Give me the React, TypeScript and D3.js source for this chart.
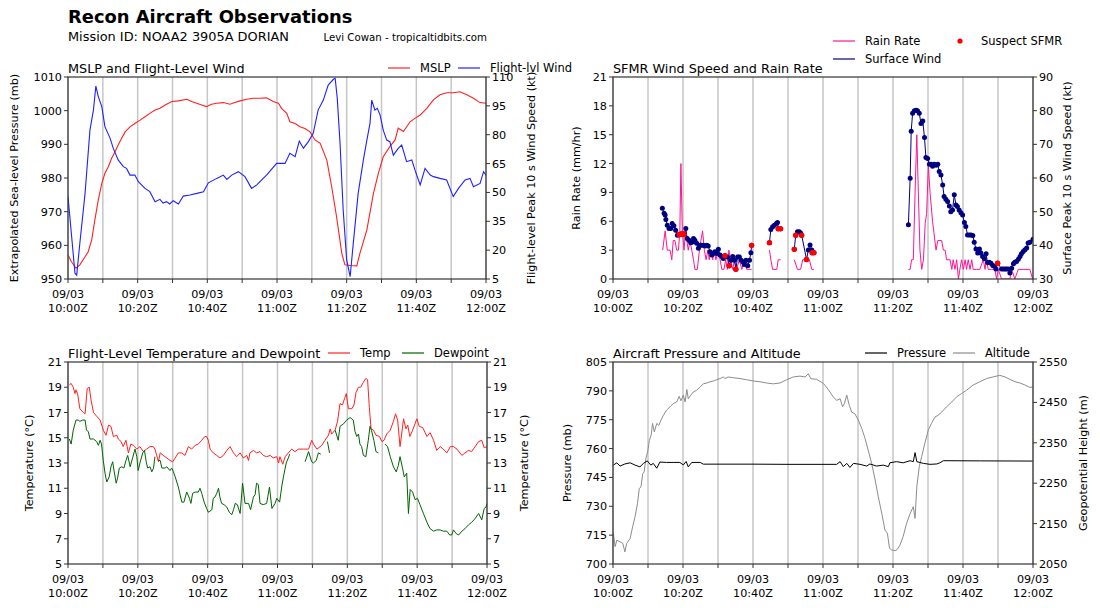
import React from "react";
import * as d3 from "d3";

type Pt = [number, number];
const N = NaN;
const FONT = "DejaVu Sans, sans-serif";

// all times are minutes after 09/03 10:00Z
const dateLabel = "09/03";
const timeLabels = ["10:00Z", "10:20Z", "10:40Z", "11:00Z", "11:20Z", "11:40Z", "12:00Z"];
const timeTicks = [0, 10, 20, 30, 40, 50, 60, 70, 80, 90, 100, 110, 120];

const mslp: Pt[] = [
  [0, 957.1], [1, 955.1], [2.3, 953.2], [3.4, 954.2], [4.9, 956.6], [5.8, 958.1], [6.8, 961.6], [7.7, 967.5],
  [8.7, 973.5], [9.7, 978.4], [10.6, 981.4], [11.6, 983.4], [12.5, 985.8], [13.5, 987.8], [14.4, 989.8],
  [15.4, 991.8], [16.4, 993.7], [17.8, 995.2], [19.2, 996.2], [20.7, 997.2], [22.1, 998.2], [23.5, 999.2],
  [25, 1000.2], [26.4, 1000.7], [27.9, 1001.7], [29.8, 1002.7], [31.7, 1002.9], [34.1, 1003.4], [35.5, 1002.7],
  [36.9, 1002.2], [38.4, 1001.7], [39.8, 1001.2], [41.2, 1001.9], [42.7, 1002.2], [44.6, 1002.4], [46.5, 1001.9],
  [47.9, 1002.4], [49.4, 1002.9], [51.3, 1003.4], [53.2, 1003.7], [55.1, 1003.7], [57, 1003.8], [58.9, 1002.7],
  [60.4, 1002.2], [61.3, 1000.7], [62.8, 999.2], [63.7, 996.7], [65.2, 996.2], [66.6, 995.2], [68, 994.7],
  [69.5, 993.7], [70.9, 991.3], [72.4, 990.3], [74.3, 985.3], [75.7, 977.4], [77.1, 968.5], [78.6, 957.6],
  [79.5, 954.2], [81, 954], [82.9, 953.9], [83.8, 957.6], [85.8, 964.6], [87.7, 975.5], [89.1, 981.4],
  [90.5, 986.3], [92.4, 989.3], [93.9, 991.3], [94.8, 994.8], [96.3, 993.8], [98.2, 996.7], [99.6, 997.7],
  [101.1, 998.7], [103, 1000.7], [104.9, 1003.2], [106.8, 1004.7], [108.7, 1005.3], [110.6, 1005.3],
  [112.5, 1005.6], [114.5, 1004.7], [116.4, 1003.7], [118.3, 1002.4], [120, 1002.2],
];

const flWind: Pt[] = [
  [0, 47.8], [1, 28], [2, 8], [2.5, 7], [3.4, 23.6], [4.9, 49.5], [6.3, 82.4], [7.3, 92.8], [8, 105.3],
  [8.7, 99.8], [9.7, 94.6], [10.6, 84.2], [12.1, 78.1], [13, 72.9], [14.4, 66.9], [15.9, 63.4], [16.8, 62.5],
  [17.8, 59], [19.2, 59], [20.2, 55.6], [22.1, 52.1], [23.5, 50.4], [25, 45.2], [26.4, 46.4], [27.3, 44.5],
  [28.3, 45.2], [29.2, 44], [30.2, 45.7], [31.7, 44], [33.1, 48.1], [35, 48.7], [37, 49.5], [38.9, 50.4],
  [40.3, 55], [42.7, 57.3], [44.6, 59], [45.6, 56.8], [47, 59], [48.9, 60.8], [50.8, 58.2], [52.7, 52.1],
  [54.2, 53.9], [55.6, 56.5], [57, 59], [59.9, 65.1], [62.3, 65.1], [63.7, 70.3], [65.2, 68.6], [66.4, 76.7],
  [67.6, 73], [69, 76.4], [70.4, 80.7], [71.8, 92.8], [73.3, 98], [74.7, 105.8], [76.2, 108.8], [76.7, 109.3],
  [77.3, 98.9], [78.1, 75.5], [79, 40.9], [80, 14.9], [81, 6.2], [81.9, 23.6], [83.3, 49.5], [84.8, 66.9],
  [85.8, 77.2], [86.7, 85.9], [87.2, 98], [88.1, 92.8], [88.8, 93.7], [89.6, 90.2], [90.5, 82.4], [91.5, 77.2],
  [92.4, 76.4], [93.4, 69.4], [94.8, 72.9], [95.8, 74.6], [97.2, 66], [98.7, 66.9], [99.6, 61.7], [101.1, 53.9],
  [102.5, 62.5], [104, 59], [104.9, 58.2], [106.8, 57.3], [108.7, 56.5], [110.6, 47.8], [112.1, 52.1],
  [114, 56.5], [115.4, 57.3], [116.4, 53], [118.3, 54.7], [119.3, 60.8], [120, 59],
];

const rainRate: Pt[] = [
  [14.2, 3], [14.9, 5], [15.5, 3], [16.3, 3], [16.8, 2], [17.2, 4], [17.7, 4], [18.2, 3], [18.7, 3], [19.1, 5],
  [19.4, 12], [19.8, 5], [20.3, 3], [20.7, 5], [21.1, 4], [21.5, 3], [22, 4], [22.5, 3], [23, 2], [23.4, 1],
  [24.1, 1], [24.7, 3], [25.1, 4], [25.6, 5], [26.1, 3], [26.6, 2], [27.1, 3], [27.5, 2], [28, 3], [28.5, 2],
  [28.9, 3], [29.4, 2], [30.1, 3], [30.6, 2], [31.1, 1], [31.7, 1], [32.2, 2], [32.7, 1], [33.1, 3], [33.6, 2],
  [34.2, 1], [34.7, 2], [35.3, 1], [36.1, 2], [36.8, 1], [37.5, 2], [38.2, 1], [39.6, 1], [42, N],
  [44.7, 3], [45.1, 2], [45.6, 1], [46.8, 1], [47.2, 2], [47.9, 2], [50, N],
  [51.8, 2], [52.7, 1], [53.6, 1], [54.2, 2], [55.3, 2], [56.1, 2], [56.8, 1], [57.4, 1], [70, N],
  [84.4, 1], [84.9, 1], [85.3, 2], [85.8, 2], [86.3, 8.9], [86.8, 15], [87.2, 9.6], [87.7, 3], [88.2, 1],
  [88.7, 2], [89.2, 5.8], [89.6, 6.8], [90.1, 11.8], [90.6, 8.9], [91.3, 6], [91.7, 4.8], [92.3, 3], [92.8, 4],
  [93.4, 4], [93.9, 4], [94.4, 3], [94.9, 3], [95.3, 2], [96.3, 2], [96.8, 1], [97.2, 2], [97.7, 1], [98.2, 2],
  [98.7, 0], [99.1, 1], [99.6, 2], [100.1, 1], [100.6, 2], [101, 1], [101.5, 2], [102, 1], [102.5, 2],
  [102.9, 1], [103.9, 1], [104.8, 1], [105.8, 2], [106.3, 1], [106.7, 2], [107.2, 1], [108.2, 1], [109.1, 1],
  [109.6, 0], [110.1, 1], [111, 0], [112.5, 0], [113.4, 0], [113.9, 1], [114.8, 0], [115.8, 1], [117.2, 1],
  [119.1, 1], [119.9, 0],
];

const sfcWind: Pt[] = [
  [14.1, 51], [14.6, 49.5], [14.9, 49], [15.1, 47.7], [15.5, 46], [16, 45], [16.5, 45], [16.9, 46.5],
  [17.4, 45.8], [17.9, 44.5], [18.4, 43], [18.9, 43.2], [19.3, 43.2], [19.8, 43.5], [20.3, 43.2], [20.8, 45],
  [21.2, 42], [21.7, 41.5], [22.2, 40.8], [22.7, 41], [23, 42], [23.4, 41.5], [23.9, 40.6], [24.4, 39.1],
  [24.9, 40], [25.3, 40], [25.8, 40], [26.3, 39.8], [26.8, 40], [27.2, 39.8], [27.7, 38.1], [28.2, 37.1],
  [28.7, 37.6], [29.1, 38.1], [29.6, 37.6], [30.1, 38.8], [30.6, 37.1], [31.1, 36.7], [31.5, 36.1], [32, 36.9],
  [32.7, 36.5], [33.2, 33.9], [33.7, 35.6], [34.2, 36.7], [34.7, 35.6], [35.1, 32.9], [35.6, 36.5],
  [36.1, 36.5], [36.6, 35.6], [37.1, 35.1], [37.5, 34.3], [38, 35.6], [38.5, 33.9], [39, 35.6], [39.4, 37.8],
  [39.6, 40], [42, N],
  [44.7, 40.8], [45.1, 44.7], [45.6, 45.5], [46.1, 46], [46.7, 46.5], [47, 46.8], [47.2, 44.9], [47.9, 44.9],
  [50, N],
  [51.8, 38.8], [52.2, 43], [52.7, 44], [53.2, 44], [53.6, 43.7], [53.9, 43], [55.3, 35.8], [55.8, 38.6],
  [56.3, 40.1], [56.8, 38.6], [56.9, 37.8], [57.4, 37.8], [70, N],
  [84.4, 46.1], [84.9, 59.9], [85.2, 73.9], [85.6, 79.2], [86.1, 80], [86.6, 80.1], [87, 80], [87.5, 79.2],
  [88, 76.2], [88.5, 76.9], [89, 72], [89.4, 66.1], [89.9, 65.8], [90.4, 64.1], [90.9, 64.1], [91.3, 63.5],
  [91.8, 64.1], [92.3, 63.8], [92.8, 64.1], [93.2, 61.9], [93.7, 60.9], [94.2, 57.9], [94.6, 54.5],
  [95.1, 53.7], [95.6, 53], [96.1, 51.7], [96.5, 50], [97, 50.5], [97.5, 55], [98, 52], [98.4, 51.5],
  [98.9, 50.5], [99.4, 49.7], [99.9, 49], [100.4, 46.8], [100.8, 45.6], [101.3, 43.1], [101.8, 43.1],
  [102.3, 43.1], [102.8, 42.9], [103.2, 40.9], [103.7, 38.9], [104.2, 37.7], [104.7, 38.9], [105.1, 37.7],
  [105.6, 36.7], [106.1, 36], [106.6, 37.5], [107, 34.9], [107.5, 35], [108, 34.7], [108.5, 34], [109, 33.8],
  [109.4, 33], [109.9, 34.7], [111, 33], [111.5, 33], [112, 33], [112.4, 33], [112.9, 33], [113.4, 31.8],
  [113.9, 33.2], [114.4, 34.5], [114.8, 35], [115.3, 35.2], [115.8, 35.9], [116.3, 36.7], [116.7, 37.5],
  [117.2, 38.2], [117.7, 38.7], [118.2, 39.2], [118.6, 40.7], [119.1, 40.9], [120, 41.8],
];

const suspectSfmr: Pt[] = [
  [18.9, 43.2], [19.3, 43.2], [19.8, 43.5], [20.3, 43.2], [32, 36.9], [33.2, 33.9], [35.1, 32.9], [39.6, 40],
  [44.7, 40.8], [47.2, 44.9], [47.9, 44.9], [51.8, 38.8], [52.2, 43], [53.9, 43], [55.3, 35.8], [56.9, 37.8],
  [57.4, 37.8], [109.9, 34.7],
];

const temp: Pt[] = [
  [0.4, 19.2], [0.9, 19.3], [1.5, 19], [2, 18.5], [2.3, 18.8], [2.8, 18.4], [3.4, 17.3], [4.4, 17], [4.9, 16.9],
  [5.5, 18.9], [6.1, 19], [6.6, 18], [7.3, 17], [8.2, 16.7], [9.2, 16.4], [10.1, 15.6], [10.9, 15.2], [11.6, 16],
  [12.3, 15.9], [13, 15.1], [14, 15.2], [14.4, 14.9], [15.2, 14.7], [15.8, 14.3], [16.6, 14.8], [17.3, 13.8],
  [18, 14.5], [18.7, 14.4], [19.7, 14.1], [20.6, 14.3], [21.6, 13.9], [22.5, 14.1], [23.5, 14.3], [24.4, 14.3],
  [24.9, 14.1], [25.4, 13.6], [25.9, 13.1], [26.4, 13.8], [27.3, 13.6], [28.3, 13.4], [29.2, 13.2], [30, 13.1],
  [30.7, 13.4], [31.6, 13.8], [32.6, 13.8], [33.5, 13.6], [34.5, 14.3], [35.4, 14.1], [36.4, 14.4], [37.3, 14.5],
  [38.3, 14.8], [39.2, 15.1], [39.7, 15.1], [40.2, 14.8], [40.7, 14.1], [41.6, 13.8], [42.6, 13.6], [43.5, 13.4],
  [44.5, 13.6], [45.5, 14], [46.4, 14.3], [47.4, 13.8], [48.3, 13.5], [49.3, 13.8], [50.2, 13.4], [51.2, 13.6],
  [51.7, 13.2], [52.1, 13.8], [53.1, 14], [54, 13.8], [55, 13.9], [55.9, 13.6], [56.9, 13.5], [57.9, 13.6],
  [58.8, 13.4], [59.8, 13.5], [60.3, 13], [60.7, 13.5], [61.5, 12.9], [62.2, 13.5], [63.1, 13.8], [64.1, 14.1],
  [65, 13.9], [66, 14.1], [67.4, 14.1], [68.9, 14.1], [69.8, 14.8], [70.3, 14.5], [71.3, 14.1], [72.7, 14.4],
  [73.6, 14.8], [74.6, 15.2], [75.1, 15.7], [75.5, 15.3], [76.5, 15.6], [77.2, 16.3], [77.9, 17.7], [78.6, 17.6],
  [79.2, 18.1], [79.7, 18.5], [80.3, 17.3], [81.3, 17.3], [81.9, 17.6], [82.5, 18.6], [83.2, 19], [83.8, 19],
  [84.6, 19.4], [85.3, 19.7], [85.8, 19.6], [86.3, 17.4], [86.8, 15.7], [87.5, 15.6], [88.2, 15.2], [89.2, 15.1],
  [89.9, 14.7], [90.5, 14.8], [91.3, 15.3], [92.3, 15.6], [93.2, 16.3], [93.8, 16.9], [94.4, 16.4], [95.1, 14.3],
  [96.1, 16.5], [96.8, 15.7], [97.3, 16], [97.9, 15.1], [98.7, 15.6], [99.9, 16.5], [100.6, 15.9], [101.6, 15.8],
  [102.8, 15.1], [103.7, 15.4], [104.7, 14.8], [105.6, 14], [106.6, 14.3], [107.5, 14.1], [108.5, 13.8],
  [109.5, 14.3], [110.4, 14.3], [111.4, 14.1], [112.8, 13.6], [113.7, 13.8], [114.7, 14], [115.6, 13.9],
  [116.6, 14.3], [117.6, 14.7], [118.5, 14.8], [119.2, 14.2], [120, 14.3],
];

const dewpoint: Pt[] = [
  [0.4, 14.9], [0.9, 14.5], [1.5, 15.6], [2.3, 16.4], [2.9, 16.4], [3.4, 16.3], [4.2, 16.4], [4.9, 16.4],
  [5.3, 15.6], [5.8, 15.5], [6.3, 14.9], [7.3, 14.9], [8.2, 14.7], [8.7, 14.4], [9.2, 14.8], [9.6, 14.5],
  [10.1, 13.2], [10.6, 12.2], [11.1, 11.5], [11.8, 11.9], [12.3, 12.7], [12.8, 13.1], [13.3, 12.2], [13.8, 11.4],
  [14.2, 11.8], [14.7, 12.6], [15.4, 12.7], [16, 12.6], [16.6, 13.2], [17.1, 13.6], [17.8, 12.7], [18.5, 13.4],
  [19.2, 14.1], [19.7, 13.5], [20.1, 12.4], [20.6, 13], [21.4, 13.8], [21.9, 14], [22.4, 13.1], [22.8, 12.6],
  [23.5, 12.7], [24, 12.3], [24.5, 12.6], [24.9, 13.5], [25.2, N],
  [25.8, 13.2], [26.4, 13.2], [26.9, 12.6], [27.8, 12.6], [28.3, 12.7], [29.2, 12.4], [29.7, 12.6], [30.2, 12.3],
  [30.7, 11.9], [31.6, 11.1], [32.6, 9.9], [33.2, 9.9], [34, 10.7], [34.8, 10.2], [35.2, 9.8], [35.7, 10.6],
  [36.4, 10.7], [37.3, 10.7], [37.8, 11], [38.3, 10.6], [39, 9.9], [39.7, 9.4], [40.2, 9.1], [41.2, 9.3],
  [41.6, 10.2], [42.1, 10.3], [42.6, 10.6], [43.1, 11], [43.5, 10.3], [44, 9.8], [44.7, 9.7], [45.5, 9.5],
  [46.2, 9.1], [46.9, 8.9], [47.4, 9.3], [47.9, 9.8], [48.5, 9.7], [49.3, 9], [50, 11.4], [50.7, 9.8],
  [51.7, 9.8], [52.3, 9.3], [53.1, 10.3], [53.6, 10.5], [54, 11.4], [54.5, 11.3], [55, 9.8], [55.9, 9.7],
  [56.9, 9.8], [57.7, 11.1], [58.4, 9.4], [59.3, 9.8], [59.8, 10.2], [60.6, 9.9], [61.2, 11.1], [61.7, 11.9],
  [62.5, 13], [63.1, 13.4], [63.5, 13.7], [65, N],
  [67.9, 13.1], [68.9, 13.9], [69.8, 13.1], [70.3, 13], [71.1, 13.2], [71.7, 13.8], [72.4, 13.7], [73, N],
  [74.3, 14.7], [74.9, 13.8], [75.5, N],
  [76.5, 15.6], [77.4, 14.8], [77.9, 15.9], [78.9, 16.1], [79.8, 16.4], [80.8, 16.6], [81.7, 16.4], [82.2, 15.5],
  [82.7, 15.1], [83.2, 15.3], [83.6, 14.5], [84.1, 14.3], [84.6, 13.6], [85.3, 13.5], [86, 14.8], [86.5, 15.9],
  [86.9, 15.6], [87.6, 14.8], [88.2, 13.9], [88.9, 13.8], [89.8, N],
  [90.8, 14.5], [91.5, 14.3], [92.3, 13.5], [93.2, 12.7], [94, 12.3], [94.6, 12.8], [95.1, 13.5], [95.8, 12.6],
  [96.3, 11.9], [97, 12.2], [97.5, 9], [98, 10.9], [98.7, 10.7], [99.4, 10.1], [100.1, 10.2], [100.8, 9.7],
  [101.8, 9], [102.8, 8.3], [103.7, 7.8], [104.7, 7.6], [105.6, 7.7], [106.6, 7.7], [107.5, 7.6], [108.5, 7.6],
  [109.3, 7.3], [109.9, 7.3], [110.4, 7.7], [111.2, 7.4], [111.9, 7.3], [112.8, 7.6], [113.7, 7.8], [114.7, 8.1],
  [115.6, 8.3], [116.6, 8.6], [117.6, 9], [118.5, 8.5], [119.2, 9.4], [119.7, 9.5], [120, 9.8],
];

const acPressure: Pt[] = [
  [0.1, 751.4], [1.1, 752.6], [2, 750.9], [3.4, 752], [4.9, 752.6], [6.3, 751.4], [7.7, 750.5], [8.7, 752.3],
  [9.8, 753.6], [10.8, 751.4], [11.5, 752.3], [12.5, 749.8], [13.4, 753], [15.3, 752.8], [17.2, 752.8],
  [19.1, 752.8], [20.1, 751.5], [20.9, 753.3], [21.5, 750.5], [22.5, 752.8], [24.9, 752.8], [25.8, 751.9],
  [40, 751.9], [50, 751.8], [63.9, 751.8], [64.9, 753.2], [65.8, 750.6], [66.8, 752.3], [67.7, 750.2],
  [68.7, 752.3], [70.6, 751.8], [72.5, 750.9], [73.4, 752], [75.3, 750.9], [77.2, 751.4], [78.7, 750.6],
  [79.1, 752.6], [81, 753.2], [82.9, 752.6], [84.9, 753.7], [85.8, 753.2], [86.3, 757.9], [86.8, 753.2],
  [88.7, 752.3], [90.6, 751.8], [92.5, 752], [93.4, 752.6], [94.4, 753.7], [105, 753.6], [119.9, 753.5],
];

const altitude: Pt[] = [
  [0.1, 2126], [0.6, 2093], [1.1, 2109], [2, 2105], [2.8, 2101], [3.4, 2080], [3.9, 2101], [4.9, 2113],
  [5.6, 2142], [6.3, 2167], [7, 2200], [7.5, 2237], [8, 2241], [8.5, 2274], [8.9, 2278], [9.4, 2311],
  [9.9, 2328], [10.4, 2356], [10.9, 2369], [11.3, 2398], [11.8, 2377], [12.5, 2398], [13.1, 2393], [13.7, 2406],
  [14.4, 2418], [15.3, 2431], [16.3, 2439], [17.2, 2447], [18.2, 2451], [18.9, 2465], [19.4, 2454], [20.1, 2468],
  [20.6, 2451], [21.1, 2482], [21.5, 2459], [22.2, 2468], [23, 2476], [23.9, 2480], [24.9, 2488], [25.8, 2496],
  [26.8, 2498], [27.7, 2501], [28.7, 2503], [29.6, 2506], [30.6, 2509], [31.5, 2513], [32, 2509], [32.9, 2513],
  [34.4, 2511], [36.3, 2509], [38.2, 2506], [40.1, 2503], [42, 2501], [43.9, 2498], [45.8, 2496], [47.7, 2498],
  [49.6, 2506], [51.5, 2513], [53.4, 2515], [54.9, 2513], [55.8, 2521], [56.5, 2509], [58.2, 2507], [60.1, 2497],
  [61.5, 2482], [62.9, 2464], [63.9, 2455], [64.9, 2459], [65.6, 2439], [66.1, 2447], [66.8, 2468], [67.5, 2443],
  [68.2, 2426], [69.1, 2422], [70.1, 2406], [71.1, 2385], [72, 2361], [72.9, 2332], [73.9, 2299], [74.9, 2258],
  [75.8, 2216], [76.8, 2175], [77.7, 2134], [78.4, 2126], [79, 2089], [79.6, 2085], [80.6, 2083], [81.2, 2086],
  [82, 2097], [82.9, 2118], [83.9, 2151], [84.9, 2175], [85.8, 2192], [86.3, 2163], [86.8, 2241], [87.5, 2291],
  [88.2, 2316], [89.1, 2349], [90.1, 2382], [91, 2398], [92, 2414], [92.9, 2418], [93.9, 2426], [95.3, 2439],
  [96.8, 2451], [98.2, 2464], [99.6, 2472], [101, 2480], [102.9, 2493], [104.8, 2501], [106.7, 2509],
  [108.6, 2513], [110.5, 2517], [112, 2513], [113.4, 2507], [114.9, 2501], [116.3, 2498], [117.7, 2493],
  [119.1, 2487], [119.9, 2488],
];

type Box = { x: number; y: number; w: number; h: number };
type Lin = d3.ScaleLinear<number, number>;

function path(data: Pt[], x: Lin, y: Lin) {
  return d3
    .line<Pt>()
    .defined((d) => !isNaN(d[1]))
    .x((d) => x(d[0]))
    .y((d) => y(d[1]))(data) || "";
}

function Axes(props: {
  id: string;
  b: Box;
  x: Lin;
  yL: Lin;
  yR: Lin;
  ticksL: number[];
  ticksR: number[];
  title: string;
  labelL: string;
  labelR: string;
  lxL: number;
  lxR: number;
  children: React.ReactNode;
}) {
  const { id, b, x, yL, yR } = props;
  const bottom = b.y + b.h;
  const right = b.x + b.w;
  const midY = b.y + b.h / 2;
  return (
    <g fontFamily={FONT}>
      <defs>
        <clipPath id={id}>
          <rect x={b.x} y={b.y} width={b.w} height={b.h} />
        </clipPath>
      </defs>
      {timeTicks.map((t) => (
        <line key={t} x1={x(t)} x2={x(t)} y1={b.y} y2={bottom} stroke="#c6c6c6" strokeWidth={1.5} />
      ))}
      <g clipPath={`url(#${id})`}>{props.children}</g>
      <rect x={b.x} y={b.y} width={b.w} height={b.h} fill="none" stroke="#333" strokeWidth={1.2} />
      {timeTicks.map((t) => (
        <line key={"xt" + t} x1={x(t)} x2={x(t)} y1={bottom} y2={bottom + 4} stroke="#333" strokeWidth={1} />
      ))}
      {timeTicks
        .filter((t) => t % 20 === 0)
        .map((t) => (
          <text key={"xl" + t} x={x(t)} textAnchor="middle" fontSize={11.2} fill="#000">
            <tspan x={x(t)} y={bottom + 19}>{dateLabel}</tspan>
            <tspan x={x(t)} y={bottom + 33}>{timeLabels[t / 20]}</tspan>
          </text>
        ))}
      {props.ticksL.map((v) => (
        <g key={"l" + v}>
          <line x1={b.x - 4} x2={b.x} y1={yL(v)} y2={yL(v)} stroke="#333" strokeWidth={1} />
          <text x={b.x - 6} y={yL(v)} dy="0.36em" textAnchor="end" fontSize={11.2}>{v}</text>
        </g>
      ))}
      {props.ticksR.map((v) => (
        <g key={"r" + v}>
          <line x1={right} x2={right + 4} y1={yR(v)} y2={yR(v)} stroke="#333" strokeWidth={1} />
          <text x={right + 6} y={yR(v)} dy="0.36em" textAnchor="start" fontSize={11.2}>{v}</text>
        </g>
      ))}
      <text x={b.x} y={b.y - 4.5} fontSize={12.8}>{props.title}</text>
      <text transform={`translate(${props.lxL},${midY}) rotate(-90)`} textAnchor="middle" dy="0.35em" fontSize={11.2}>
        {props.labelL}
      </text>
      <text transform={`translate(${props.lxR},${midY}) rotate(-90)`} textAnchor="middle" dy="0.35em" fontSize={11.2}>
        {props.labelR}
      </text>
    </g>
  );
}

function LegendLine(p: { x: number; y: number; color: string; label: string; len?: number }) {
  const len = p.len ?? 22;
  return (
    <g fontFamily={FONT}>
      <line x1={p.x} x2={p.x + len} y1={p.y} y2={p.y} stroke={p.color} strokeWidth={1.2} />
      <text x={p.x + len + 10} y={p.y} dy="0.36em" fontSize={11.5}>{p.label}</text>
    </g>
  );
}

export default function App() {
  const b1: Box = { x: 68, y: 77, w: 418, h: 202 };
  const b2: Box = { x: 613, y: 77, w: 420, h: 202 };
  const b3: Box = { x: 68, y: 362, w: 419, h: 202 };
  const b4: Box = { x: 613, y: 362, w: 420, h: 202 };

  const xs = (b: Box) => d3.scaleLinear().domain([0, 120]).range([b.x, b.x + b.w]);
  const ys = (b: Box, dom: [number, number]) => d3.scaleLinear().domain(dom).range([b.y + b.h, b.y]);

  const x1 = xs(b1), x2 = xs(b2), x3 = xs(b3), x4 = xs(b4);
  const y1L = ys(b1, [950, 1010]), y1R = ys(b1, [5, 110]);
  const y2L = ys(b2, [0, 21]), y2R = ys(b2, [30, 90]);
  const y3L = ys(b3, [5, 21]), y3R = ys(b3, [5, 21]);
  const y4L = ys(b4, [700, 805]), y4R = ys(b4, [2050, 2550]);

  const validWind = sfcWind.filter((d) => !isNaN(d[1]));

  return (
    <svg width={1100} height={608} style={{ position: "absolute", left: 0, top: 0, background: "#fff" }}>
      <rect width={1100} height={608} fill="#fff" />
      <text x={68} y={23} fontFamily={FONT} fontWeight="bold" fontSize={17.9}>Recon Aircraft Observations</text>
      <text x={68} y={40.5} fontFamily={FONT} fontSize={12.9}>Mission ID: NOAA2 3905A DORIAN</text>
      <text x={323.5} y={41} fontFamily={FONT} fontSize={10.2}>Levi Cowan - tropicaltidbits.com</text>

      <Axes id="c1" b={b1} x={x1} yL={y1L} yR={y1R} ticksL={d3.range(950, 1011, 10)} ticksR={d3.range(5, 111, 15)}
        title="MSLP and Flight-Level Wind" labelL="Extrapolated Sea-level Pressure (mb)"
        labelR="Flight-level Peak 10 s Wind Speed (kt)" lxL={14} lxR={531}>
        <path d={path(mslp, x1, y1L)} fill="none" stroke="#ff2020" strokeWidth={1.1} />
        <path d={path(flWind, x1, y1R)} fill="none" stroke="#2020ff" strokeWidth={1.1} />
      </Axes>
      <LegendLine x={388} y={68} color="#ff2020" label="MSLP" />
      <LegendLine x={458} y={68} color="#2020ff" label="Flight-lvl Wind" />

      <Axes id="c2" b={b2} x={x2} yL={y2L} yR={y2R} ticksL={d3.range(0, 22, 3)} ticksR={d3.range(30, 91, 10)}
        title="SFMR Wind Speed and Rain Rate" labelL="Rain Rate (mm/hr)"
        labelR="Surface Peak 10 s Wind Speed (kt)" lxL={576} lxR={1067}>
        <path d={path(rainRate, x2, y2L)} fill="none" stroke="#ff1493" strokeWidth={1} />
        <path d={path(sfcWind, x2, y2R)} fill="none" stroke="#000080" strokeWidth={1} />
        {validWind.map((d, i) => (
          <circle key={"w" + i} cx={x2(d[0])} cy={y2R(d[1])} r={2.5} fill="#000080" />
        ))}
        {suspectSfmr.map((d, i) => (
          <circle key={"s" + i} cx={x2(d[0])} cy={y2R(d[1])} r={2.7} fill="#ff0000" />
        ))}
      </Axes>
      <LegendLine x={833} y={41} color="#ff1493" label="Rain Rate" />
      <LegendLine x={833} y={59} color="#000080" label="Surface Wind" />
      <circle cx={960} cy={41} r={2.6} fill="#ff0000" />
      <text x={981} y={41} dy="0.36em" fontFamily={FONT} fontSize={11.5}>Suspect SFMR</text>

      <Axes id="c3" b={b3} x={x3} yL={y3L} yR={y3R} ticksL={d3.range(5, 22, 2)} ticksR={d3.range(5, 22, 2)}
        title="Flight-Level Temperature and Dewpoint" labelL="Temperature (°C)"
        labelR="Temperature (°C)" lxL={29} lxR={524}>
        <path d={path(temp, x3, y3L)} fill="none" stroke="#ff2020" strokeWidth={1} />
        <path d={path(dewpoint, x3, y3L)} fill="none" stroke="#006400" strokeWidth={1} />
      </Axes>
      <LegendLine x={328} y={353} color="#ff2020" label="Temp" />
      <LegendLine x={402} y={353} color="#006400" label="Dewpoint" />

      <Axes id="c4" b={b4} x={x4} yL={y4L} yR={y4R} ticksL={d3.range(700, 806, 15)} ticksR={d3.range(2050, 2551, 100)}
        title="Aircraft Pressure and Altitude" labelL="Pressure (mb)"
        labelR="Geopotential Height (m)" lxL={567} lxR={1083}>
        <path d={path(altitude, x4, y4R)} fill="none" stroke="#8c8c8c" strokeWidth={1} />
        <path d={path(acPressure, x4, y4L)} fill="none" stroke="#000" strokeWidth={1} />
      </Axes>
      <LegendLine x={865} y={353} color="#000" label="Pressure" />
      <LegendLine x={953} y={353} color="#8c8c8c" label="Altitude" />
    </svg>
  );
}
